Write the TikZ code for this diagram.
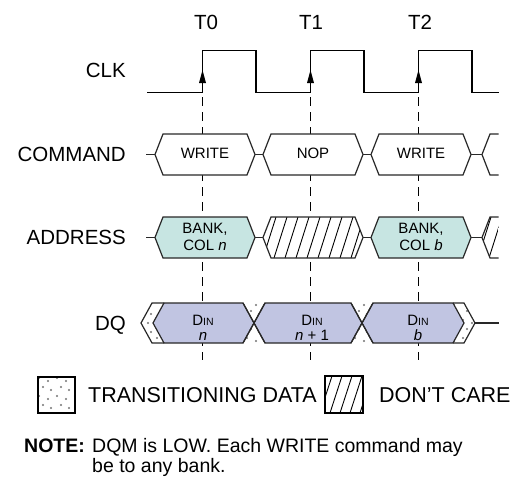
\documentclass[tikz,border=0pt]{standalone}
\usepackage{fontspec}
\setmainfont{Liberation Sans}
\definecolor{addrfill}{RGB}{199,229,226}
\definecolor{dqfill}{RGB}{193,197,226}
\definecolor{edgec}{RGB}{40,40,40}
\definecolor{dotgray}{RGB}{115,115,115}
\newcommand\hexshape[6]{%
  \draw[#1] (#2,{(#4+#5)/2}) -- ({#2+#6},#4) -- ({#3-#6},#4) -- (#3,{(#4+#5)/2}) -- ({#3-#6},#5) -- ({#2+#6},#5) -- cycle;}
\newcommand\hexclip[5]{%
  \clip (#1,{(#3+#4)/2}) -- ({#1+#5},#3) -- ({#2-#5},#3) -- (#2,{(#3+#4)/2}) -- ({#2-#5},#4) -- ({#1+#5},#4) -- cycle;}
\newcommand\speckle[4]{%
  \foreach \i in {0,...,#3}{\foreach \j in {0,...,#4}{%
    \fill[dotgray] ({#1+18*\i+3},{#2+18*\j+3}) circle (1.15pt);
    \fill[dotgray] ({#1+18*\i+12},{#2+18*\j+6}) circle (1.15pt);
    \fill[dotgray] ({#1+18*\i+7},{#2+18*\j+12}) circle (1.15pt);
    \fill[dotgray] ({#1+18*\i+15},{#2+18*\j+15}) circle (1.15pt);
  }}}
\begin{document}
\begin{tikzpicture}[x=1pt,y=-1pt,line join=miter]
\tikzset{
  wave/.style={line width=1.3pt,draw=black},
  hexline/.style={line width=1.2pt,draw=edgec},
  hatchline/.style={line width=0.9pt,draw=black},
  guide/.style={line width=0.9pt,draw=black,dash pattern=on 9pt off 6pt},
  lbl/.style={font=\fontsize{20.5}{24}\selectfont,anchor=base east,inner sep=0pt},
  tlbl/.style={font=\fontsize{20.5}{24}\selectfont,anchor=base,inner sep=0pt},
  hx/.style={font=\fontsize{15}{17}\selectfont,anchor=base,inner sep=0pt},
  leg/.style={font=\fontsize{21.5}{24}\selectfont,anchor=base west,inner sep=0pt},
  note/.style={font=\fontsize{19.5}{22}\selectfont,anchor=base west,inner sep=0pt},
}
\useasboundingbox (0,0) rectangle (512,477);
\fill[white] (0,0) rectangle (512,477);

% guide lines
\foreach \x/\n in {202.5/g0,310.5/g1,418.5/g2}{
  \coordinate (\n a) at (\x,97);
  \coordinate (\n b) at (\x,360);
  \draw[guide] (\n a) -- (\n b);
}

% labels
\node[tlbl] (t0) at (206,29.3) {T0};
\node[tlbl] (t1) at (311,29.3) {T1};
\node[tlbl] (t2) at (420,29.3) {T2};
\node[lbl] (lclk) at (126,77.8) {CLK};
\node[lbl] (lcmd) at (126,161.8) {COMMAND};
\node[lbl] (ladr) at (126,244.8) {ADDRESS};
\node[lbl] (ldq) at (126,330.3) {DQ};

% clock
\draw[wave] (147,92.7) -- (202.5,92.7) -- (202.5,50.7) -- (256,50.7) -- (256,92.7)
  -- (310.5,92.7) -- (310.5,50.7) -- (364,50.7) -- (364,92.7)
  -- (418.5,92.7) -- (418.5,50.7) -- (472,50.7) -- (472,92.7) -- (499,92.7);
\foreach \x in {202.5,310.5,418.5}{
  \fill (\x,70) -- ({\x+3.5},83) -- ({\x-3.5},83) -- cycle;
}

% COMMAND row
\foreach \a/\b in {146/155,255/263,363/371,471/482}{
  \draw[hexline] (\a,154.5) -- (\b,154.5);
}
\hexshape{hexline,fill=white}{155}{255}{134}{175}{8}
\hexshape{hexline,fill=white}{263}{363}{134}{175}{8}
\hexshape{hexline,fill=white}{371}{471}{134}{175}{8}
\fill[white] (498.5,134) -- (490,134) -- (482,154.5) -- (490,175) -- (498.5,175) -- cycle;
\draw[hexline] (498.5,134) -- (490,134) -- (482,154.5) -- (490,175) -- (498.5,175);
\node[hx] (c1) at (205,158.7) {WRITE};
\node[hx] (c2) at (313,158.7) {NOP};
\node[hx] (c3) at (421,158.7) {WRITE};

% ADDRESS row
\foreach \a/\b in {146/155,255/263,363/371,471/482}{
  \draw[hexline] (\a,237.5) -- (\b,237.5);
}
\hexshape{hexline,fill=addrfill}{155}{255}{217}{258}{8}
\begin{scope}
  \hexclip{263}{363}{217}{258}{8}
  \fill[white] (260,215) rectangle (366,260);
  \foreach \i in {0,...,11}{\draw[hatchline] ({252+11*\i},258) -- ({265+11*\i},217);}
\end{scope}
\hexshape{hexline}{263}{363}{217}{258}{8}
\hexshape{hexline,fill=addrfill}{371}{471}{217}{258}{8}
\begin{scope}
  \clip (498.5,217) -- (490,217) -- (482,237.5) -- (490,258) -- (498.5,258) -- cycle;
  \foreach \i in {0,...,2}{\draw[hatchline] ({478+11*\i},258) -- ({491+11*\i},217);}
\end{scope}
\draw[hexline] (498.5,217) -- (490,217) -- (482,237.5) -- (490,258) -- (498.5,258);
\node[hx] (a1) at (205,233) {BANK,};
\node[hx] (a1b) at (205,250.5) {COL \textit{n}};
\node[hx] (a3) at (421,233) {BANK,};
\node[hx] (a3b) at (421,250.5) {COL \textit{b}};

% DQ row
\begin{scope}
  \clip (152,303) -- (164,303) -- (153,323) -- (164,343) -- (152,343) -- (141,323) -- cycle
        (243,303) -- (265,303) -- (254,323) -- cycle
        (243,343) -- (265,343) -- (254,323) -- cycle
        (351,303) -- (373,303) -- (362,323) -- cycle
        (351,343) -- (373,343) -- (362,323) -- cycle
        (453,303) -- (464,303) -- (475,323) -- (464,343) -- (453,343) -- (464,323) -- cycle;
  \speckle{136}{299}{19}{2}
\end{scope}
\draw[hexline,fill=dqfill] (153,323) -- (164,303) -- (243,303) -- (254,323) -- (243,343) -- (164,343) -- cycle;
\draw[hexline,fill=dqfill] (254,323) -- (265,303) -- (351,303) -- (362,323) -- (351,343) -- (265,343) -- cycle;
\draw[hexline,fill=dqfill] (362,323) -- (373,303) -- (453,303) -- (464,323) -- (453,343) -- (373,343) -- cycle;
\draw[hexline] (164,303) -- (152,303) -- (141,323) -- (152,343) -- (164,343);
\draw[hexline] (453,303) -- (464,303) -- (475,323) -- (464,343) -- (453,343);
\draw[hexline] (243,303) -- (265,343);
\draw[hexline] (265,303) -- (243,343);
\draw[hexline] (351,303) -- (373,343);
\draw[hexline] (373,303) -- (351,343);
\draw[hexline] (475,323) -- (498.5,323);
\node[hx] (d1) at (203,325) {D{\fontsize{10.5}{12}\selectfont IN}};
\node[hx] (d1b) at (203,340) {\textit{n}};
\node[hx] (d2) at (312,325) {D{\fontsize{10.5}{12}\selectfont IN}};
\node[hx] (d2b) at (312,340) {\textit{n} + 1};
\node[hx] (d3) at (418,325) {D{\fontsize{10.5}{12}\selectfont IN}};
\node[hx] (d3b) at (418,340) {\textit{b}};

% legend
\begin{scope}
  \clip (38,377) rectangle (75,413);
  \speckle{36}{375}{2}{2}
\end{scope}
\draw[line width=1.1pt] (38,377) rectangle (75,413);
\node[leg] (ltr) at (88,402) {TRANSITIONING DATA};
\begin{scope}
  \clip (325,376) rectangle (363,413);
  \foreach \i in {0,...,4}{\draw[hatchline] ({320+10*\i},413) -- ({332+10*\i},376);}
\end{scope}
\draw[line width=1.1pt] (325,376) rectangle (363,413);
\node[leg] (ldc) at (379,402) {DON’T CARE};

% note
\node[note] (n0) at (24,452) {\bfseries NOTE:};
\node[note] (n1) at (92,452) {DQM is LOW. Each WRITE command may};
\node[note] (n2) at (92,472) {be to any bank.};
\end{tikzpicture}
\end{document}
